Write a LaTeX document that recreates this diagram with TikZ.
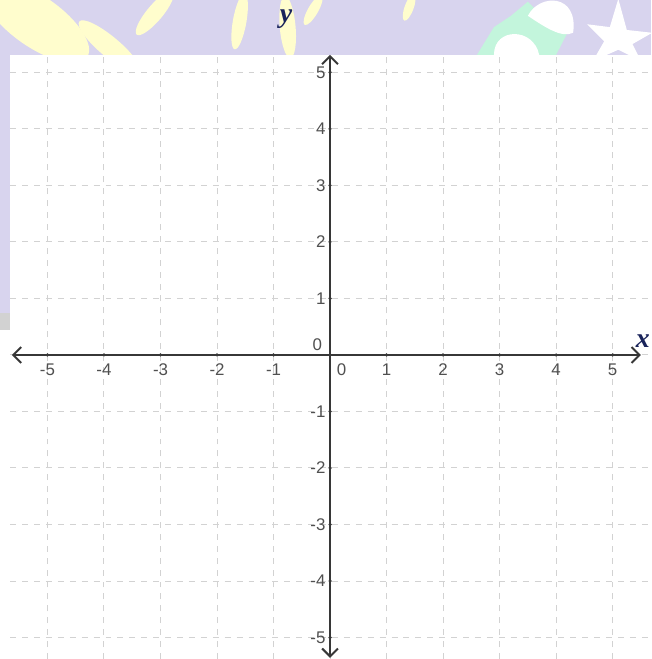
\documentclass[tikz,border=0pt]{standalone}
\usepackage{fontspec}
\setsansfont{Liberation Sans}
\setmainfont{Liberation Serif}
\definecolor{bglav}{RGB}{216,212,238}
\definecolor{bgyellow}{RGB}{255,253,205}
\definecolor{bgmint}{RGB}{195,245,220}
\definecolor{gridgray}{RGB}{210,210,210}
\definecolor{axisgray}{RGB}{55,55,55}
\definecolor{labgray}{RGB}{80,80,80}
\definecolor{varnavy}{RGB}{25,35,90}
\usetikzlibrary{arrows.meta,positioning}

\begin{document}
\begin{tikzpicture}[
  gridline/.style={gridgray, dashed, line width=0.5pt},
  axisline/.style={axisgray, line width=1pt, {Straight Barb[length=4pt,width=8pt]}-{Straight Barb[length=4pt,width=8pt]}},
  ticklab/.style={font=\sffamily\fontsize{8.5}{9}\selectfont, text=labgray, inner sep=1pt},
  varlab/.style={font=\rmfamily\bfseries\itshape\fontsize{14}{15}\selectfont, text=varnavy}
]
  \useasboundingbox (-5.84,-5.38) rectangle (5.68,6.28);

  % Background pattern
  \fill[bglav] (-5.84,-5.38) rectangle (5.68,6.28);
  \begin{scope}
    \clip (-5.84,5.31) rectangle (5.68,6.28);
    \fill[bgyellow, rotate around={-35:(-5.2,5.9)}] (-5.2,5.9) ellipse (1.1 and 0.45);
    \fill[bgyellow, rotate around={-40:(-3.9,5.45)}] (-3.9,5.45) ellipse (0.7 and 0.18);
    \fill[bgyellow, rotate around={50:(-3.1,6.05)}] (-3.1,6.05) ellipse (0.5 and 0.14);
    \fill[bgyellow, rotate around={80:(-1.6,5.9)}] (-1.6,5.9) ellipse (0.5 and 0.12);
    \fill[bgyellow, rotate around={95:(-0.75,5.8)}] (-0.75,5.8) ellipse (0.55 and 0.14);
    \fill[bgyellow, rotate around={60:(-0.3,6.1)}] (-0.3,6.1) ellipse (0.3 and 0.09);
    \fill[bgyellow, rotate around={70:(1.4,6.15)}] (1.4,6.15) ellipse (0.25 and 0.08);
    \fill[bgmint] (2.6,5.31) -- (2.9,5.8) -- (3.2,6.0) -- (3.5,6.25) -- (3.8,5.95) -- (4.1,6.2) -- (4.2,5.7) -- (4.0,5.31) -- cycle;
    \fill[white] (2.9,5.31) .. controls (2.9,5.8) and (3.6,5.8) .. (3.7,5.31) -- cycle;
    \fill[white] (3.5,6.0) .. controls (3.7,6.4) and (4.4,6.4) .. (4.3,5.7) .. controls (4.1,5.6) and (3.8,5.8) .. (3.5,6.0) -- cycle;
    \fill[white] (5.1,6.3) -- (5.25,5.75) -- (5.7,5.7) -- (5.35,5.5) -- (5.5,5.2) -- (5.1,5.4) -- (4.65,5.2) -- (4.85,5.55) -- (4.55,5.85) -- (4.95,5.8) -- cycle;
  \end{scope}
  \fill[gray!35] (-5.84,0.45) rectangle (-5.66,0.75);

  % Plot area
  \fill[white] (-5.66,-5.38) rectangle (5.68,5.31);
  \fill[white] (-5.84,-5.38) rectangle (-5.66,0.45);

  % Grid
  \foreach \k in {-5,...,5} {
    \draw[gridline] (\k,-5.38) -- (\k,5.31);
    \draw[gridline] (-5.66,\k) -- (5.68,\k);
  }

  % Axes
  \coordinate (xl) at (-5.63,0);
  \coordinate (xr) at (5.5,0);
  \coordinate (yb) at (0,-5.36);
  \coordinate (yt) at (0,5.31);
  \draw[axisline] (xl) -- (xr);
  \draw[axisline] (yb) -- (yt);

  % Ticks and labels
  \foreach \k in {-5,...,-1,1,2,3,4,5} {
    \fill[axisgray] (\k,0) circle (0.9pt);
    \fill[axisgray] (0,\k) circle (0.9pt);
    \node[ticklab, anchor=north] (xt\k) at (\k,-0.12) {\k};
    \node[ticklab, anchor=east] (yt\k) at (-0.04,\k) {\k};
  }
  \node[ticklab, anchor=north west] (xzero) at (0.08,-0.12) {0};
  \node[ticklab, anchor=south east] (yzero) at (-0.1,0.04) {0};

  % Axis names
  \node[varlab] (ylab) at (-0.78,5.95) {y};
  \node[varlab, anchor=east, inner sep=0.5pt] (xlab) at (5.68,0.24) {x};
\end{tikzpicture}
\end{document}
